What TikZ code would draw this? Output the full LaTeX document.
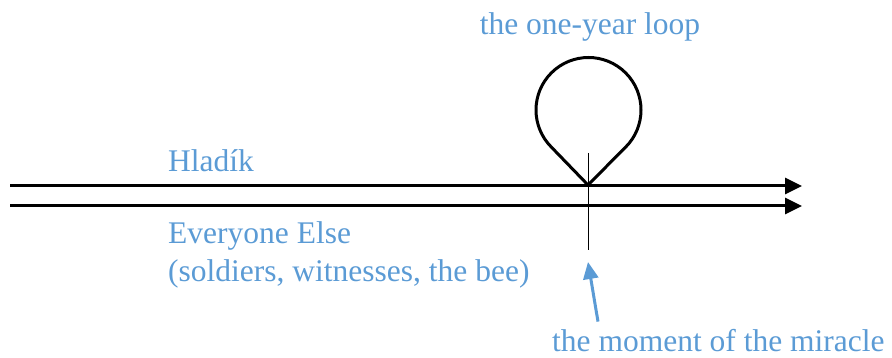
\documentclass[tikz,border=0pt]{standalone}
\usepackage{fontspec}
\setmainfont{Liberation Serif}
\usepackage{tikz}
\usetikzlibrary{arrows.meta,calc,positioning}
\definecolor{labelblue}{HTML}{5B9BD5}

\begin{document}
\begin{tikzpicture}[x=1pt,y=1pt,
          tag/.style={text=labelblue, inner sep=0pt, font=\fontsize{31.5}{38.5}\selectfont},
          timeline/.style={-{Triangle[length=17pt,width=16pt]}, line width=3pt, color=black},
          pointer/.style={-{Triangle[length=17pt,width=15pt]}, line width=3pt, color=labelblue}
        ]
          \useasboundingbox (0,0) rectangle (892,358);
          % the two lines of time
          \coordinate (hstart) at (10,172);
          \coordinate (hend) at (802,172);
          \coordinate (estart) at (10,152);
          \coordinate (eend) at (802,152);
          \draw[timeline] (hstart) -- (hend);
          \draw[timeline] (estart) -- (eend);
          % loop and moment
          \coordinate (tip) at (588,173);
          \coordinate (centre) at (588.5,248);
          \draw[line width=3pt, line join=miter] (tip) -- ($(centre)+(-45:52.5)$) arc (-45:225:52.5) -- cycle;
          \coordinate (mtop) at (588,205);
          \coordinate (mbot) at (588,108);
          \draw[line width=1pt] (mtop) -- (mbot);
          \node[tag, anchor=base] (loop) at (590,323) {the one-year loop};
          \node[tag, anchor=base west] (hladik) at (168,186) {Hlad\'{\i}k};
          \node[tag, anchor=base west, align=left] (others) at (168,76) {Everyone Else\\(soldiers, witnesses, the bee)};
          \node[tag, anchor=base west] (miracle) at (552,6) {the moment of the miracle};
          \coordinate (phead) at (588,96);
          \draw[pointer] ($(miracle.north west)+(46,8)$) -- (phead);
        \end{tikzpicture}
\end{document}
